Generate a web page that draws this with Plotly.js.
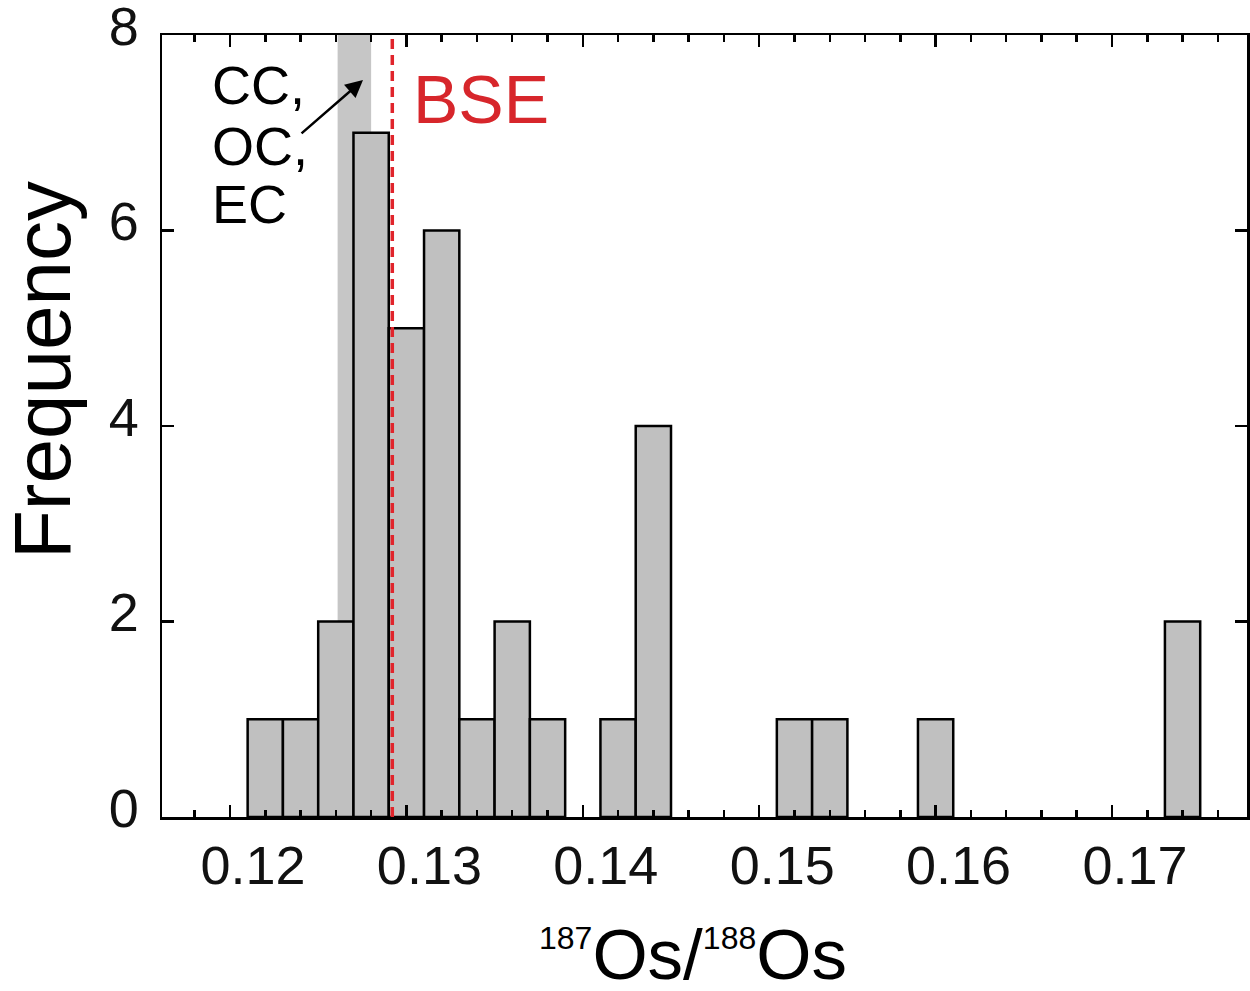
<!DOCTYPE html>
<html>
<head>
<meta charset="utf-8">
<script src="https://cdn.plot.ly/plotly-3.0.1.min.js"></script>
<style>html,body{margin:0;padding:0;background:#fff;}</style>
</head>
<body>
<div id="chart" style="width:1250px;height:991px;"></div>
<script>
// Histogram bin centres (187Os/188Os) and counts
const binCenters = [0.122, 0.124, 0.126, 0.128, 0.130, 0.132, 0.134, 0.136, 0.138, 0.142, 0.144, 0.152, 0.154, 0.160, 0.174];
const counts     = [1,     1,     2,     7,     5,     6,     1,     2,     1,     1,     4,     1,     1,     1,     2];
const binWidth = 0.002;

// Reference values
const chondriteRange = [0.1261, 0.1280];   // CC, OC, EC band
const bseValue = 0.1292;                    // BSE dashed line
const chondriteLabels = ["CC,", "OC,", "EC"];

const xTickVals = [0.12, 0.13, 0.14, 0.15, 0.16, 0.17];
const xTickText = ["0.12", "0.13", "0.14", "0.15", "0.16", "0.17"];
const yTickVals = [0, 2, 4, 6, 8];

const FONT = "Liberation Sans, Arial, sans-serif";

const trace = {
  type: "bar",
  x: binCenters,
  y: counts,
  width: binCenters.map(() => binWidth),
  marker: {color: "#c0c0c0", line: {color: "#000", width: 2.5}},
  hoverinfo: "x+y"
};

const annotations = [
  {xref: "x", yref: "y", x: 0.13026, y: 7.35, text: "BSE", showarrow: false,
   xanchor: "left", yanchor: "middle", font: {family: FONT, size: 68, color: "#d7262b"}},
  {xref: "x", yref: "y", x: 0.12754, y: 7.54, axref: "x", ayref: "y", ax: 0.12397, ay: 6.98,
   text: "", showarrow: true, arrowhead: 2, arrowsize: 1.4, arrowwidth: 2.5, arrowcolor: "#000"},
  {xref: "paper", yref: "paper", x: -0.1106, y: 0.5716, text: "Frequency", showarrow: false,
   textangle: -90, xanchor: "center", yanchor: "middle", font: {family: FONT, size: 80, color: "#000"}},
  {xref: "paper", yref: "paper", x: 0.489, y: -0.1756,
   text: "<sup><span style=\"font-size:32px\">187</span></sup>Os/<sup><span style=\"font-size:32px\">188</span></sup>Os",
   showarrow: false, xanchor: "center", yanchor: "middle", font: {family: FONT, size: 71, color: "#000"}}
];
const labelY = [7.49, 6.86, 6.27];
chondriteLabels.forEach((t, i) => {
  annotations.push({xref: "x", yref: "y", x: 0.11887, y: labelY[i], text: t, showarrow: false,
    xanchor: "left", yanchor: "middle", font: {family: FONT, size: 54, color: "#000"}});
});

const layout = {
  width: 1250, height: 991,
  margin: {l: 162, r: 3, t: 35, b: 174},
  paper_bgcolor: "#fff", plot_bgcolor: "#fff",
  showlegend: false,
  bargap: 0,
  font: {family: FONT, color: "#000"},
  xaxis: {
    range: [0.116145, 0.177653],
    tickmode: "array", tickvals: xTickVals, ticktext: xTickText,
    ticks: "inside", ticklen: 12, tickwidth: 2.5, tickcolor: "#000",
    minor: {dtick: 0.002, tick0: 0.12, ticks: "inside", ticklen: 7, tickwidth: 2.5, tickcolor: "#000", showgrid: false},
    showline: true, linecolor: "#000", linewidth: 2.5, mirror: "ticks",
    showgrid: false, zeroline: false,
    tickfont: {family: FONT, size: 54, color: "#111"},
    ticklabelshift: 23, ticklabelstandoff: 0, ticklabeloverflow: "allow"
  },
  yaxis: {
    range: [0, 8],
    tickmode: "array", tickvals: yTickVals,
    ticks: "inside", ticklen: 12, tickwidth: 2.5, tickcolor: "#000",
    showline: true, linecolor: "#000", linewidth: 2.5, mirror: "ticks",
    showgrid: false, zeroline: false,
    tickfont: {family: FONT, size: 54, color: "#111"},
    ticklabelstandoff: 10, ticklabelshift: -9, ticklabeloverflow: "allow"
  },
  shapes: [
    {type: "rect", xref: "x", yref: "paper", x0: chondriteRange[0], x1: chondriteRange[1], y0: 0, y1: 1,
     fillcolor: "#c6c6c6", line: {width: 0}, layer: "below"},
    {type: "line", xref: "x", yref: "paper", x0: bseValue, x1: bseValue, y0: 0, y1: 1,
     line: {color: "#e0242b", width: 3.5, dash: "10px,6px"}, layer: "above"}
  ],
  annotations: annotations
};

Plotly.newPlot("chart", [trace], layout, {displayModeBar: false, staticPlot: true});
</script>
</body>
</html>
